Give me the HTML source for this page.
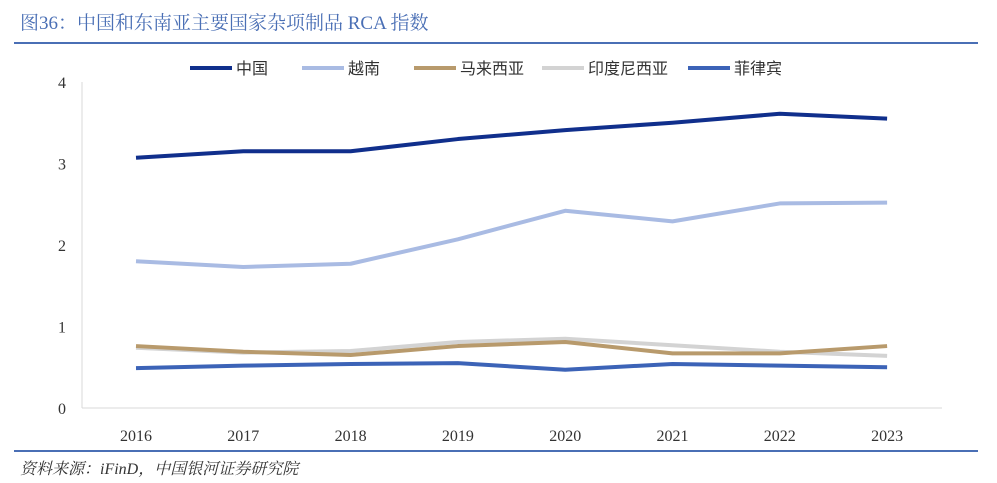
<!DOCTYPE html>
<html><head><meta charset="utf-8"><style>
body{margin:0;width:997px;height:483px;background:#fff;overflow:hidden;font-family:"Liberation Serif","Noto Serif CJK SC",serif}
#title{position:absolute;left:20px;top:8px;font-size:19px;color:#4a6fb5;font-family:"Liberation Serif","Noto Serif CJK SC",serif}
#src{position:absolute;left:20px;top:456px;font-size:16px;color:#333;font-style:italic;font-family:"Liberation Serif","Noto Serif CJK SC",serif}
.rule{position:absolute;left:14px;width:964px;height:2px;background:#4a6fb5}
</style></head><body>
<div id="title">图36：中国和东南亚主要国家杂项制品 RCA 指数</div>
<div class="rule" style="top:42px"></div>
<div class="rule" style="top:450px"></div>
<div id="src">资料来源：iFinD，中国银河证券研究院</div>
<svg id="chart" width="997" height="483" style="position:absolute;left:0;top:0"></svg>
<script>
const years=["2016","2017","2018","2019","2020","2021","2022","2023"];
const yTicks=[0,1,2,3,4];
const seriesNames=["中国","越南","马来西亚","印度尼西亚","菲律宾"];
const china=[3.07,3.15,3.15,3.30,3.41,3.50,3.61,3.55];
const vietnam=[1.80,1.73,1.77,2.07,2.42,2.29,2.51,2.52];
const malaysia=[0.76,0.69,0.65,0.76,0.81,0.67,0.67,0.76];
const indonesia=[0.74,0.68,0.70,0.81,0.85,0.77,0.69,0.64];
const philippines=[0.49,0.52,0.54,0.55,0.47,0.54,0.52,0.50];
const colors=["#102f8c","#a9bbe3","#b89a6c","#d3d3d3","#3c63b7"];
const svg=document.getElementById('chart');
const NS="http://www.w3.org/2000/svg";
const x=i=>136+i*107.3;
const y=v=>408-v*81.5;
function mk(t,a){const e=document.createElementNS(NS,t);for(const k in a)e.setAttribute(k,a[k]);svg.appendChild(e);return e;}
const ax=mk('line',{x1:82,x2:942,y1:y(0),y2:y(0),stroke:'#d9d9d9','stroke-width':1});


const ay=mk('line',{x1:82,x2:82,y1:y(0),y2:y(4),stroke:'#d9d9d9','stroke-width':1});


yTicks.forEach(v=>{const t=mk('text',{x:66,y:y(v)+6,'text-anchor':'end','font-size':16,fill:'#333'});t.textContent=v;

});
years.forEach((yr,i)=>{const t=mk('text',{x:x(i),y:441,'text-anchor':'middle','font-size':16,fill:'#333'});t.textContent=yr;

});
const all=[china,vietnam,malaysia,indonesia,philippines];
const order=[3,2,4,1,0];
order.forEach(s=>{const p=mk('polyline',{points:all[s].map((v,i)=>x(i)+','+y(v)).join(' '),fill:'none',stroke:colors[s],'stroke-width':4,'stroke-linejoin':'round'});

});
const lx=[190,302,414,542,688];
seriesNames.forEach((n,i)=>{
const l=mk('line',{x1:lx[i],x2:lx[i]+42,y1:68,y2:68,stroke:colors[i],'stroke-width':4});


const t=mk('text',{x:lx[i]+46,y:74,'font-size':16,fill:'#333','font-family':'"Noto Sans CJK SC",sans-serif'});t.textContent=n;

});
</script>
</body></html>
